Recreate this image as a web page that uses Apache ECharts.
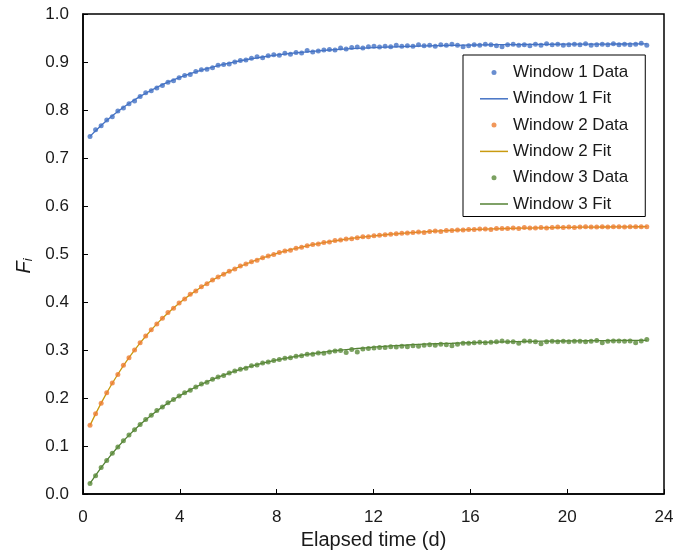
<!DOCTYPE html>
<html>
<head>
<meta charset="utf-8">
<script src="https://cdn.jsdelivr.net/npm/echarts@6/dist/echarts.min.js"></script>
<style>
  html, body { margin: 0; padding: 0; background: #fff; }
  #chart { width: 683px; height: 551px; }
</style>
</head>
<body>
<div id="chart"></div>
<script>
// sampling times (d)
const times = [
  0.29, 0.52, 0.75, 0.98, 1.21, 1.44, 1.67, 1.90, 2.13, 2.36,
  2.59, 2.82, 3.05, 3.28, 3.51, 3.74, 3.97, 4.20, 4.43, 4.66,
  4.89, 5.12, 5.35, 5.58, 5.81, 6.04, 6.27, 6.50, 6.73, 6.96,
  7.19, 7.42, 7.65, 7.88, 8.11, 8.34, 8.57, 8.80, 9.03, 9.26,
  9.49, 9.72, 9.95, 10.18, 10.41, 10.64, 10.87, 11.10, 11.33, 11.56,
  11.79, 12.02, 12.25, 12.48, 12.71, 12.94, 13.17, 13.40, 13.63, 13.86,
  14.09, 14.32, 14.55, 14.78, 15.01, 15.24, 15.47, 15.70, 15.93, 16.16,
  16.39, 16.62, 16.85, 17.08, 17.31, 17.54, 17.77, 18.00, 18.23, 18.46,
  18.69, 18.92, 19.15, 19.38, 19.61, 19.84, 20.07, 20.30, 20.53, 20.76,
  20.99, 21.22, 21.45, 21.68, 21.91, 22.14, 22.37, 22.60, 22.83, 23.06,
  23.29
];

const w1Data = [
  0.745, 0.759, 0.767, 0.779, 0.786, 0.798, 0.804, 0.813, 0.819, 0.828,
  0.836, 0.840, 0.846, 0.851, 0.858, 0.861, 0.867, 0.872, 0.874, 0.880,
  0.884, 0.885, 0.888, 0.893, 0.895, 0.896, 0.900, 0.903, 0.904, 0.908,
  0.911, 0.909, 0.913, 0.915, 0.914, 0.918, 0.916, 0.920, 0.919, 0.924,
  0.921, 0.923, 0.925, 0.926, 0.925, 0.929, 0.927, 0.930, 0.931, 0.929,
  0.932, 0.933, 0.931, 0.933, 0.932, 0.935, 0.933, 0.934, 0.933, 0.936,
  0.934, 0.935, 0.933, 0.936, 0.935, 0.937, 0.935, 0.932, 0.934, 0.936,
  0.935, 0.937, 0.936, 0.934, 0.932, 0.936, 0.937, 0.935, 0.936, 0.934,
  0.937, 0.935, 0.938, 0.936, 0.937, 0.935, 0.936, 0.937, 0.936, 0.938,
  0.935, 0.936, 0.937, 0.936, 0.938, 0.936, 0.937, 0.936, 0.937, 0.939,
  0.935
];
const w1Fit = [
  0.7450, 0.7568, 0.7678, 0.7781, 0.7879, 0.7970, 0.8056, 0.8136, 0.8212, 0.8283,
  0.8350, 0.8412, 0.8471, 0.8527, 0.8579, 0.8627, 0.8673, 0.8716, 0.8757, 0.8795,
  0.8830, 0.8864, 0.8895, 0.8925, 0.8952, 0.8978, 0.9003, 0.9026, 0.9047, 0.9068,
  0.9087, 0.9104, 0.9121, 0.9137, 0.9152, 0.9166, 0.9179, 0.9191, 0.9202, 0.9213,
  0.9223, 0.9233, 0.9242, 0.9250, 0.9258, 0.9266, 0.9272, 0.9279, 0.9285, 0.9291,
  0.9296, 0.9301, 0.9305, 0.9309, 0.9313, 0.9317, 0.9321, 0.9325, 0.9328, 0.9332,
  0.9335, 0.9337, 0.9340, 0.9342, 0.9344, 0.9346, 0.9348, 0.9350, 0.9352, 0.9354,
  0.9356, 0.9358, 0.9359, 0.9360, 0.9361, 0.9362, 0.9363, 0.9364, 0.9365, 0.9366,
  0.9367, 0.9368, 0.9369, 0.9369, 0.9370, 0.9371, 0.9371, 0.9372, 0.9372, 0.9373,
  0.9373, 0.9374, 0.9374, 0.9374, 0.9375, 0.9375, 0.9375, 0.9376, 0.9376, 0.9376,
  0.9376
];

const w2Data = [
  0.143, 0.167, 0.189, 0.211, 0.231, 0.249, 0.268, 0.284, 0.300, 0.315,
  0.329, 0.342, 0.354, 0.366, 0.378, 0.387, 0.398, 0.406, 0.416, 0.423,
  0.432, 0.438, 0.446, 0.452, 0.458, 0.464, 0.469, 0.475, 0.479, 0.484,
  0.487, 0.492, 0.496, 0.499, 0.503, 0.506, 0.508, 0.512, 0.514, 0.517,
  0.520, 0.521, 0.524, 0.525, 0.528, 0.529, 0.531, 0.532, 0.534, 0.536,
  0.536, 0.538, 0.539, 0.540, 0.541, 0.542, 0.543, 0.544, 0.545, 0.546,
  0.545, 0.547, 0.548, 0.547, 0.549, 0.549, 0.550, 0.550, 0.551, 0.551,
  0.552, 0.552, 0.551, 0.553, 0.553, 0.553, 0.554, 0.553, 0.555, 0.554,
  0.554, 0.555, 0.554, 0.555, 0.556, 0.555, 0.556, 0.555, 0.556, 0.557,
  0.556, 0.556, 0.557, 0.556, 0.557, 0.557, 0.556, 0.557, 0.557, 0.557,
  0.557
];
const w2Fit = [
  0.1430, 0.1669, 0.1894, 0.2107, 0.2307, 0.2495, 0.2673, 0.2841, 0.2998, 0.3147,
  0.3287, 0.3419, 0.3544, 0.3661, 0.3771, 0.3876, 0.3974, 0.4066, 0.4154, 0.4236,
  0.4313, 0.4386, 0.4455, 0.4520, 0.4581, 0.4638, 0.4693, 0.4744, 0.4792, 0.4837,
  0.4880, 0.4921, 0.4958, 0.4994, 0.5028, 0.5060, 0.5090, 0.5118, 0.5145, 0.5170,
  0.5193, 0.5216, 0.5236, 0.5256, 0.5275, 0.5292, 0.5309, 0.5325, 0.5339, 0.5353,
  0.5366, 0.5379, 0.5390, 0.5401, 0.5412, 0.5421, 0.5430, 0.5439, 0.5447, 0.5455,
  0.5462, 0.5469, 0.5475, 0.5481, 0.5487, 0.5492, 0.5497, 0.5502, 0.5507, 0.5511,
  0.5515, 0.5519, 0.5522, 0.5525, 0.5528, 0.5531, 0.5534, 0.5537, 0.5539, 0.5541,
  0.5544, 0.5546, 0.5548, 0.5550, 0.5552, 0.5553, 0.5555, 0.5556, 0.5558, 0.5559,
  0.5560, 0.5561, 0.5562, 0.5563, 0.5564, 0.5565, 0.5566, 0.5567, 0.5568, 0.5568,
  0.5569
];

const w3Data = [
  0.022, 0.038, 0.055, 0.070, 0.085, 0.098, 0.111, 0.123, 0.134, 0.145,
  0.155, 0.164, 0.174, 0.181, 0.190, 0.197, 0.204, 0.211, 0.216, 0.223,
  0.229, 0.233, 0.239, 0.244, 0.247, 0.252, 0.256, 0.260, 0.262, 0.267,
  0.269, 0.273, 0.275, 0.278, 0.280, 0.283, 0.284, 0.287, 0.288, 0.291,
  0.291, 0.294, 0.293, 0.296, 0.298, 0.299, 0.295, 0.301, 0.296, 0.302,
  0.303, 0.304, 0.305, 0.305, 0.307, 0.306, 0.308, 0.307, 0.309, 0.308,
  0.310, 0.311, 0.310, 0.312, 0.311, 0.309, 0.312, 0.314, 0.314, 0.315,
  0.316, 0.315, 0.316, 0.317, 0.319, 0.317, 0.317, 0.314, 0.319, 0.318,
  0.317, 0.313, 0.317, 0.318, 0.317, 0.318, 0.317, 0.318, 0.318, 0.317,
  0.318, 0.320, 0.315, 0.318, 0.319, 0.319, 0.318, 0.319, 0.315, 0.319,
  0.322
];
const w3Fit = [
  0.0220, 0.0390, 0.0551, 0.0702, 0.0845, 0.0980, 0.1107, 0.1227, 0.1340, 0.1446,
  0.1547, 0.1641, 0.1731, 0.1815, 0.1894, 0.1969, 0.2040, 0.2107, 0.2169, 0.2229,
  0.2285, 0.2338, 0.2387, 0.2434, 0.2478, 0.2520, 0.2559, 0.2596, 0.2631, 0.2664,
  0.2695, 0.2725, 0.2752, 0.2778, 0.2803, 0.2826, 0.2848, 0.2869, 0.2888, 0.2907,
  0.2924, 0.2940, 0.2956, 0.2970, 0.2984, 0.2997, 0.3009, 0.3020, 0.3031, 0.3041,
  0.3051, 0.3060, 0.3069, 0.3077, 0.3084, 0.3091, 0.3098, 0.3104, 0.3110, 0.3116,
  0.3121, 0.3126, 0.3130, 0.3134, 0.3138, 0.3141, 0.3145, 0.3148, 0.3151, 0.3154,
  0.3157, 0.3160, 0.3163, 0.3166, 0.3169, 0.3171, 0.3173, 0.3175, 0.3177, 0.3179,
  0.3181, 0.3183, 0.3184, 0.3186, 0.3187, 0.3188, 0.3190, 0.3191, 0.3192, 0.3193,
  0.3194, 0.3195, 0.3196, 0.3197, 0.3198, 0.3199, 0.3199, 0.3200, 0.3201, 0.3201,
  0.3202
];

const seriesNames = [
  'Window 1 Data', 'Window 1 Fit',
  'Window 2 Data', 'Window 2 Fit',
  'Window 3 Data', 'Window 3 Fit'
];

const font = '"Liberation Sans", Arial, sans-serif';
const textColor = '#1a1a1a';
const lineIcon = 'path://M0,0H28V1.5H0Z';

const pairs = (ys) => times.map((t, i) => [t, ys[i]]);

const dataSeries = (name, values, color) => ({
  name,
  type: 'scatter',
  data: pairs(values),
  symbol: 'circle',
  symbolSize: 5,
  itemStyle: { color },
  z: 3,
});

const fitSeries = (name, values, color) => ({
  name,
  type: 'line',
  data: pairs(values),
  symbol: 'none',
  lineStyle: { color, width: 1.3 },
  itemStyle: { color },
  z: 2,
});

const chart = echarts.init(document.getElementById('chart'));

const options = {
  animation: false,
  textStyle: { fontFamily: font },
  grid: {
    left: 83,
    right: 19,
    top: 14,
    bottom: 57,
    outerBoundsMode: 'none',
    containLabel: false,
    show: true,
    borderColor: '#000',
    borderWidth: 1.5,
  },
  legend: {
    orient: 'vertical',
    left: 463,
    top: 55,
    padding: [9, 17, 4, 17],
    borderColor: '#000',
    borderWidth: 1,
    backgroundColor: '#fff',
    itemWidth: 28,
    itemHeight: 5,
    itemGap: 9.3,
    textStyle: { fontSize: 17, color: textColor, fontFamily: font },
    data: seriesNames.map((n, i) => (i % 2 ? { name: n, icon: lineIcon } : { name: n, icon: 'circle' })),
  },
  xAxis: {
    type: 'value',
    min: 0,
    max: 24,
    interval: 4,
    name: 'Elapsed time (d)',
    nameLocation: 'middle',
    nameGap: 36,
    nameTextStyle: { fontSize: 20, color: textColor, fontFamily: font },
    axisLine: { lineStyle: { color: '#000', width: 1.5 } },
    axisTick: { inside: true, length: 5, lineStyle: { color: '#000', width: 1 } },
    axisLabel: { fontSize: 17, color: textColor, margin: 15, fontFamily: font },
    splitLine: { show: false },
  },
  yAxis: {
    type: 'value',
    min: 0,
    max: 1,
    interval: 0.1,
    name: '{f|F}{s|i}',
    nameLocation: 'middle',
    nameGap: 47,
    nameRotate: 90,
    nameTextStyle: {
      fontFamily: font,
      color: textColor,
      padding: [0, 0, 0, -24],
      rich: {
        f: { fontSize: 20, fontStyle: 'italic', fontFamily: font, color: textColor },
        s: { fontSize: 13, fontStyle: 'italic', fontFamily: font, color: textColor, padding: [8, 0, 0, 0] },
      },
    },
    axisLine: { show: true, lineStyle: { color: '#000', width: 1.5 } },
    axisTick: { show: true, inside: true, length: 5, lineStyle: { color: '#000', width: 1 } },
    axisLabel: {
      fontSize: 17,
      color: textColor,
      margin: 14,
      fontFamily: font,
      formatter: (v) => v.toFixed(1),
    },
    splitLine: { show: false },
  },
  series: [
    dataSeries(seriesNames[0], w1Data, '#4472C4'),
    fitSeries(seriesNames[1], w1Fit, '#4472C4'),
    dataSeries(seriesNames[2], w2Data, '#ED7D31'),
    fitSeries(seriesNames[3], w2Fit, '#C99A10'),
    dataSeries(seriesNames[4], w3Data, '#5A8A3A'),
    fitSeries(seriesNames[5], w3Fit, '#548235'),
  ],
};

chart.setOption(options);
</script>
</body>
</html>
